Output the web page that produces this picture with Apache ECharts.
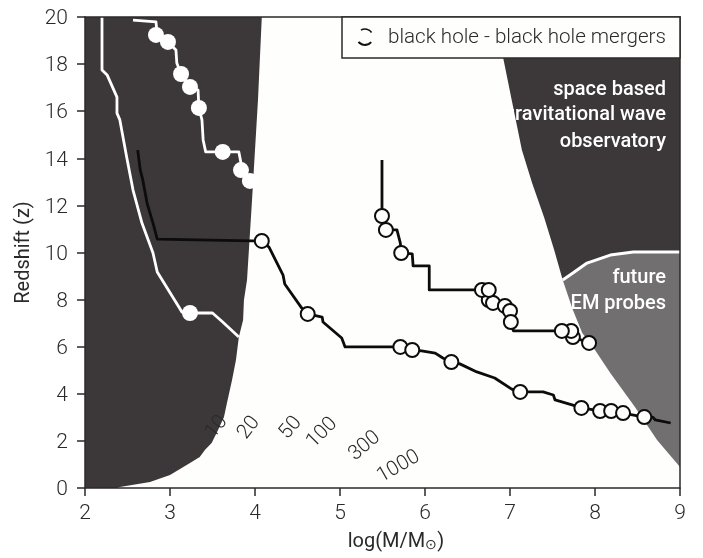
<!DOCTYPE html>
<html>
<head>
<meta charset="utf-8">
<script src="https://cdn.jsdelivr.net/npm/echarts@6/dist/echarts.min.js"></script>
<style>html,body{margin:0;padding:0;background:#fff}#c{width:703px;height:558px}</style>
</head>
<body>
<div id="c"></div>
<script>
const xTicks = [2,3,4,5,6,7,8,9];
const yTicks = [0,2,4,6,8,10,12,14,16,18,20];

const leftRegion = [[2,0],[2.38,0],[2.41,0.04],[2.765,0.25],[3.0,0.55],[3.235,1.06],[3.35,1.32],[3.41,1.61],[3.49,1.91],[3.565,2.46],[3.635,3.01],[3.67,3.61],[3.73,4.59],[3.776,5.44],[3.81,6.41],[3.86,7.13],[3.87,7.98],[3.906,8.83],[3.965,12.23],[4.035,16.48],[4.08,20],[2,20]];
const spaceRegion = [[6.81,20],[6.92,18.26],[7.02,16.48],[7.14,14.35],[7.26,12.95],[7.40,11.51],[7.52,10.11],[7.62,8.83],[7.74,9.13],[7.906,9.55],[8.18,9.89],[8.45,10.02],[9,10.02],[9,20]];
const emRegion = [[7.62,8.83],[7.74,7.56],[7.85,6.58],[8.0,5.86],[8.18,4.88],[8.47,3.44],[8.73,2.04],[9,0.89],[9,10.02],[8.45,10.02],[8.18,9.89],[7.906,9.55],[7.74,9.13]];
const emEdge = [[7.62,8.83],[7.74,9.13],[7.906,9.55],[8.18,9.89],[8.45,10.02],[9,10.02]];

const whiteTrackA = [[2.2,20],[2.2,17.75],[2.26,17.54],[2.376,16.6],[2.376,15.92],[2.41,15.63],[2.49,14.06],[2.565,12.65],[2.67,11.25],[2.8,9.98],[2.85,9.17],[3.09,7.77],[3.14,7.47],[3.235,7.43],[3.5,7.43],[3.62,7.05],[3.81,6.41]];
const whiteMarksA = [[3.235,7.43]];
const whiteTrackB = [[2.565,19.87],[2.835,19.79],[2.85,19.24],[2.976,18.94],[3.07,18.6],[3.08,18.05],[3.13,17.58],[3.235,17.03],[3.33,16.9],[3.34,16.14],[3.376,15.63],[3.39,14.78],[3.42,14.27],[3.62,14.27],[3.81,14.27],[3.835,13.8],[3.835,13.5],[3.94,13.04]];
const whiteMarksB = [[2.835,19.24],[2.976,18.94],[3.13,17.58],[3.235,17.03],[3.34,16.14],[3.62,14.27],[3.835,13.5],[3.94,13.04]];

const blackTrackA = [[2.62,14.35],[2.65,13.5],[2.68,13.08],[2.73,12.1],[2.8,11.25],[2.85,10.57],[3.965,10.49],[4.08,10.49],[4.165,10.23],[4.33,9.04],[4.35,8.66],[4.55,7.64],[4.62,7.39],[4.79,7.26],[4.8,7.05],[5.02,6.37],[5.06,5.99],[5.71,5.99],[5.85,5.86],[5.96,5.82],[6.12,5.73],[6.21,5.52],[6.31,5.35],[6.41,5.27],[6.61,4.93],[6.82,4.67],[7.02,4.2],[7.12,4.08],[7.39,4.08],[7.51,3.95],[7.53,3.74],[7.74,3.52],[7.84,3.4],[8.06,3.27],[8.19,3.27],[8.33,3.18],[8.58,3.01],[8.68,3.01],[8.71,2.89],[8.89,2.76]];
const blackMarksA = [[4.08,10.49],[4.62,7.39],[5.71,5.99],[5.85,5.86],[6.31,5.35],[7.12,4.08],[7.84,3.4],[8.06,3.27],[8.19,3.27],[8.33,3.18],[8.58,3.01]];
const blackTrackB = [[5.494,13.93],[5.494,11.55],[5.54,10.96],[5.67,10.96],[5.71,10.4],[5.72,9.98],[5.85,9.94],[5.86,9.43],[6.05,9.43],[6.05,8.41],[6.67,8.41],[6.75,8.41],[6.75,7.98],[6.8,7.86],[6.94,7.73],[7.0,7.52],[7.01,7.05],[7.04,6.67],[7.61,6.67],[7.72,6.67],[7.74,6.41],[7.93,6.16]];
const blackMarksB = [[5.494,11.55],[5.54,10.96],[5.72,9.98],[6.75,7.98],[6.8,7.86],[6.67,8.41],[6.75,8.41],[6.94,7.73],[7.0,7.52],[7.01,7.05],[7.74,6.41],[7.72,6.67],[7.61,6.67],[7.93,6.16]];

const contourNames = ['10','20','50','100','300','1000'];
const contourSpots = [[3.55,2.59],[3.93,2.55],[4.42,2.55],[4.79,2.34],[5.29,1.78],[5.69,0.9]];
const contourTilt = [52,52,50,45,40,30];

const INK = '#2b2a2a', DARK = '#3c3839', GREY = '#716f70', FONT = 'Roboto';

function region(points, color, z){
  return {
    type:'custom', coordinateSystem:'cartesian2d', z, silent:true, clip:true,
    data:[points.flat()],
    encode:{x:0,y:1},
    renderItem:(p,api)=>({
      type:'polygon',
      shape:{points:points.map(q=>api.coord(q))},
      style:{fill:color}
    })
  };
}
function track(data,color,z){
  return {type:'line',data,z,showSymbol:false,symbol:'none',silent:true,animation:false,
    lineStyle:{color,width:2.8,join:'round'}};
}
function marks(data,fill,stroke,z){
  return {type:'scatter',data,z,symbolSize:stroke?14:16,silent:true,clip:false,
    itemStyle:{color:fill,borderColor:stroke||fill,borderWidth:stroke?2:0,opacity:1}};
}
function note(text,y){
  return {type:'text',z:21,x:666,y,style:{text,fontFamily:FONT,fontWeight:500,fontSize:20,fill:'#fff',align:'right',verticalAlign:'middle'}};
}

const chart = echarts.init(document.getElementById('c'),null,{renderer:'canvas'});
chart.setOption({
  animation:false,
  backgroundColor:'#ffffff',
  grid:{left:85,right:23,top:17,bottom:70,show:true,backgroundColor:'#fefefc',borderWidth:0},
  xAxis:[{
    type:'value',min:2,max:9,interval:1,z:10,
    name:'{a|log(M/M}{b|⊙}{a|)}',nameLocation:'middle',nameGap:44,
    nameTextStyle:{padding:[0,0,0,27],rich:{
      a:{fontFamily:FONT,fontSize:20,color:INK,fontWeight:400},
      b:{fontFamily:'DejaVu Sans',fontSize:14,color:INK,fontWeight:300,verticalAlign:'bottom'}
    }},
    axisLine:{onZero:false,lineStyle:{color:INK,width:1.5}},
    axisTick:{length:8,lineStyle:{color:INK,width:1.5}},
    axisLabel:{fontFamily:FONT,fontWeight:300,fontSize:21,color:INK,margin:15,formatter:v=>String(v),customValues:xTicks},
    splitLine:{show:false}
  },{
    type:'value',position:'top',min:2,max:9,z:10,
    axisLine:{onZero:false,lineStyle:{color:INK,width:1.5}},axisTick:{show:false},axisLabel:{show:false},splitLine:{show:false}
  }],
  yAxis:[{
    type:'value',min:0,max:20,interval:2,z:10,
    name:'Redshift (z)',nameLocation:'middle',nameGap:50,
    nameTextStyle:{fontFamily:FONT,fontSize:20,color:INK,fontWeight:400},
    axisLine:{onZero:false,lineStyle:{color:INK,width:1.5}},
    axisTick:{length:8,lineStyle:{color:INK,width:1.5}},
    axisLabel:{margin:17,customValues:yTicks,formatter:v=>'{a|'+v+'}',
      rich:{a:{fontFamily:FONT,fontWeight:300,fontSize:21,color:INK,padding:[4,0,0,0]}}},
    splitLine:{show:false}
  },{
    type:'value',position:'right',min:0,max:20,z:10,
    axisLine:{onZero:false,lineStyle:{color:INK,width:1.5}},axisTick:{show:false},axisLabel:{show:false},splitLine:{show:false}
  }],
  series:[
    region(leftRegion,DARK,1),
    region(spaceRegion,DARK,1),
    region(emRegion,GREY,1),
    {type:'line',data:emEdge,z:2,symbol:'none',silent:true,lineStyle:{color:'#fff',width:3}},
    track(whiteTrackA,'#ffffff',3),
    track(whiteTrackB,'#ffffff',3),
    marks(whiteMarksA,'#ffffff',null,4),
    marks(whiteMarksB,'#ffffff',null,4),
    track(blackTrackA,'#0c0c0c',3),
    track(blackTrackB,'#0c0c0c',3),
    marks(blackMarksA,'#fefefc','#0c0c0c',4),
    marks(blackMarksB,'#fefefc','#0c0c0c',4),
    {
      type:'custom',coordinateSystem:'cartesian2d',z:5,silent:true,clip:false,
      data:contourSpots.map((q,i)=>[q[0],q[1],i]),
      encode:{x:0,y:1},
      renderItem:(p,api)=>{
        const i=api.value(2),c=api.coord([api.value(0),api.value(1)]);
        return {type:'text',x:c[0],y:c[1],rotation:contourTilt[i]*Math.PI/180,
          style:{text:contourNames[i],fontFamily:FONT,fontWeight:300,fontSize:20.5,fill:INK,align:'center',verticalAlign:'middle'}};
      }
    }
  ],
  graphic:[
    {type:'rect',z:20,shape:{x:342,y:17,width:338,height:41},style:{fill:'#fefefc',stroke:INK,lineWidth:1.5}},
    {type:'arc',z:21,shape:{cx:365,cy:37,r:8,startAngle:-2.1,endAngle:-0.6},style:{fill:'none',stroke:'#111',lineWidth:1.5}},
    {type:'arc',z:21,shape:{cx:365,cy:37,r:8,startAngle:0.7,endAngle:2.5},style:{fill:'none',stroke:'#111',lineWidth:2.2}},
    {type:'text',z:21,x:388,y:38,style:{text:'black hole - black hole mergers',fontFamily:FONT,fontWeight:300,fontSize:20.6,fill:INK,align:'left',verticalAlign:'middle'}},
    note('space based',90),
    note('gravitational wave',115),
    note('observatory',142),
    note('future',278),
    note('EM probes',304)
  ]
});
</script>
</body>
</html>
